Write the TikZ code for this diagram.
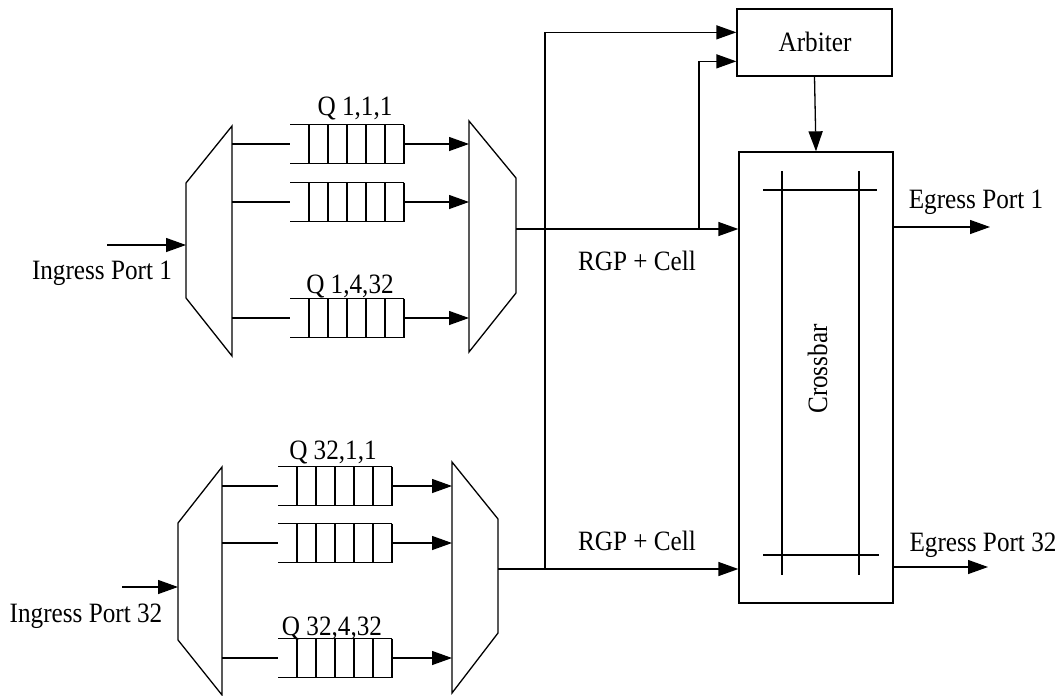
\documentclass[tikz,border=0pt]{standalone}
\usepackage{fontspec}
\setmainfont{Liberation Serif}[FakeStretch=0.9]
\usetikzlibrary{arrows.meta,calc}
\begin{document}
\begin{tikzpicture}[x=1pt,y=-1pt,line width=1.3pt,
  arr/.style={-{Triangle[length=20pt,width=14pt]}},
  lbl/.style={inner sep=0pt,anchor=base,font=\fontsize{28}{32}\selectfont},
  box/.style={draw,line width=1.3pt,inner sep=0pt},
  queue/.pic={
    \draw (0,-19.5) -- (114,-19.5) (0,19.5) -- (114,19.5);
    \foreach \i in {19,38,57,76,95,114} \draw (\i,-19.5) -- (\i,19.5);
  }]
\useasboundingbox (0,0) rectangle (1063,696);

% ---------- top ingress group ----------
\coordinate (d1a) at (232,126); \coordinate (d1b) at (186,183);
\coordinate (d1c) at (186,298); \coordinate (d1d) at (232,356);
\draw (d1a) -- (d1b) -- (d1c) -- (d1d) -- cycle;
\coordinate (m1a) at (469,121); \coordinate (m1b) at (516,178);
\coordinate (m1c) at (516,293); \coordinate (m1d) at (469,352);
\draw (m1a) -- (m1b) -- (m1c) -- (m1d) -- cycle;
\coordinate (in1) at (107,245);
\draw[arr] (in1) -- (in1 -| d1b);
\node[lbl] (lin1) at (102,279) {Ingress Port 1};
\foreach \y [count=\k] in {144,202,318}{
  \pic at (290,\y) {queue};
  \coordinate (q1s\k) at (290,\y);
  \coordinate (q1e\k) at (404,\y);
  \draw (q1s\k -| d1a) -- (q1s\k);
  \draw[arr] (q1e\k) -- (q1e\k -| m1a);
}
\node[lbl] (lq111) at (355,115) {Q 1,1,1};
\node[lbl] (lq1432) at (350,293) {Q 1,4,32};

% ---------- bottom ingress group ----------
\coordinate (d2a) at (222,467); \coordinate (d2b) at (178,523);
\coordinate (d2c) at (178,640); \coordinate (d2d) at (222,695);
\draw (d2a) -- (d2b) -- (d2c) -- (d2d) -- cycle;
\coordinate (m2a) at (452,462); \coordinate (m2b) at (498,519);
\coordinate (m2c) at (498,633); \coordinate (m2d) at (452,693);
\draw (m2a) -- (m2b) -- (m2c) -- (m2d) -- cycle;
\coordinate (in2) at (122,587);
\draw[arr] (in2) -- (in2 -| d2b);
\node[lbl] (lin2) at (86,622) {Ingress Port 32};
\foreach \y [count=\k] in {486,543,658}{
  \pic at (278,\y) {queue};
  \coordinate (q2s\k) at (278,\y);
  \coordinate (q2e\k) at (392,\y);
  \draw (q2s\k -| d2a) -- (q2s\k);
  \draw[arr] (q2e\k) -- (q2e\k -| m2a);
}
\node[lbl] (lq3211) at (333,459) {Q 32,1,1};
\node[lbl] (lq32432) at (332,635) {Q 32,4,32};

% ---------- arbiter and crossbar ----------
\node[box,minimum width=155,minimum height=67] (arb) at (814.5,42.5) {};
\node[lbl] (larb) at (815,51) {Arbiter};
\node[box,minimum width=154,minimum height=451] (xbar) at (816,377.5) {};
\node[lbl,rotate=90] (lxbar) at (827,369) {Crossbar};

% crossbar internals
\coordinate (v1t) at (782,171); \coordinate (v1b) at (782,575);
\coordinate (v2t) at (859,171); \coordinate (v2b) at (859,575);
\coordinate (h1l) at (763,190); \coordinate (h1r) at (877,190);
\coordinate (h2l) at (763,555); \coordinate (h2r) at (879,555);
\draw (v1t) -- (v1b); \draw (v2t) -- (v2b);
\draw (h1l) -- (h1r); \draw (h2l) -- (h2r);

% mux outputs into crossbar
\coordinate (o1) at (516,229);
\coordinate (o2) at (498,569);
\draw[arr] (o1) -- (o1 -| xbar.west);
\draw[arr] (o2) -- (o2 -| xbar.west);
\node[lbl] (lrgp1) at (637,270) {RGP + Cell};
\node[lbl] (lrgp2) at (637,550) {RGP + Cell};

% request lines to arbiter
\coordinate (t1) at (699,229);
\coordinate (t2) at (545,569);
\coordinate (a1) at ($(arb.north west)+(0,53)$);
\coordinate (a2) at ($(arb.north west)+(0,24)$);
\draw[arr] (t1) |- (a1);
\draw[arr] (t2) |- (a2);

% arbiter to crossbar
\draw[arr] (arb.south) -- (xbar.north);

% egress
\coordinate (e1) at (893,227);
\coordinate (e2) at (893,567);
\draw[arr] (e1) -- ++(97,0) coordinate (e1t);
\draw[arr] (e2) -- ++(95,0) coordinate (e2t);
\node[lbl] (leg1) at (976,208) {Egress Port 1};
\node[lbl] (leg2) at (983,551) {Egress Port 32};
\end{tikzpicture}
\end{document}
